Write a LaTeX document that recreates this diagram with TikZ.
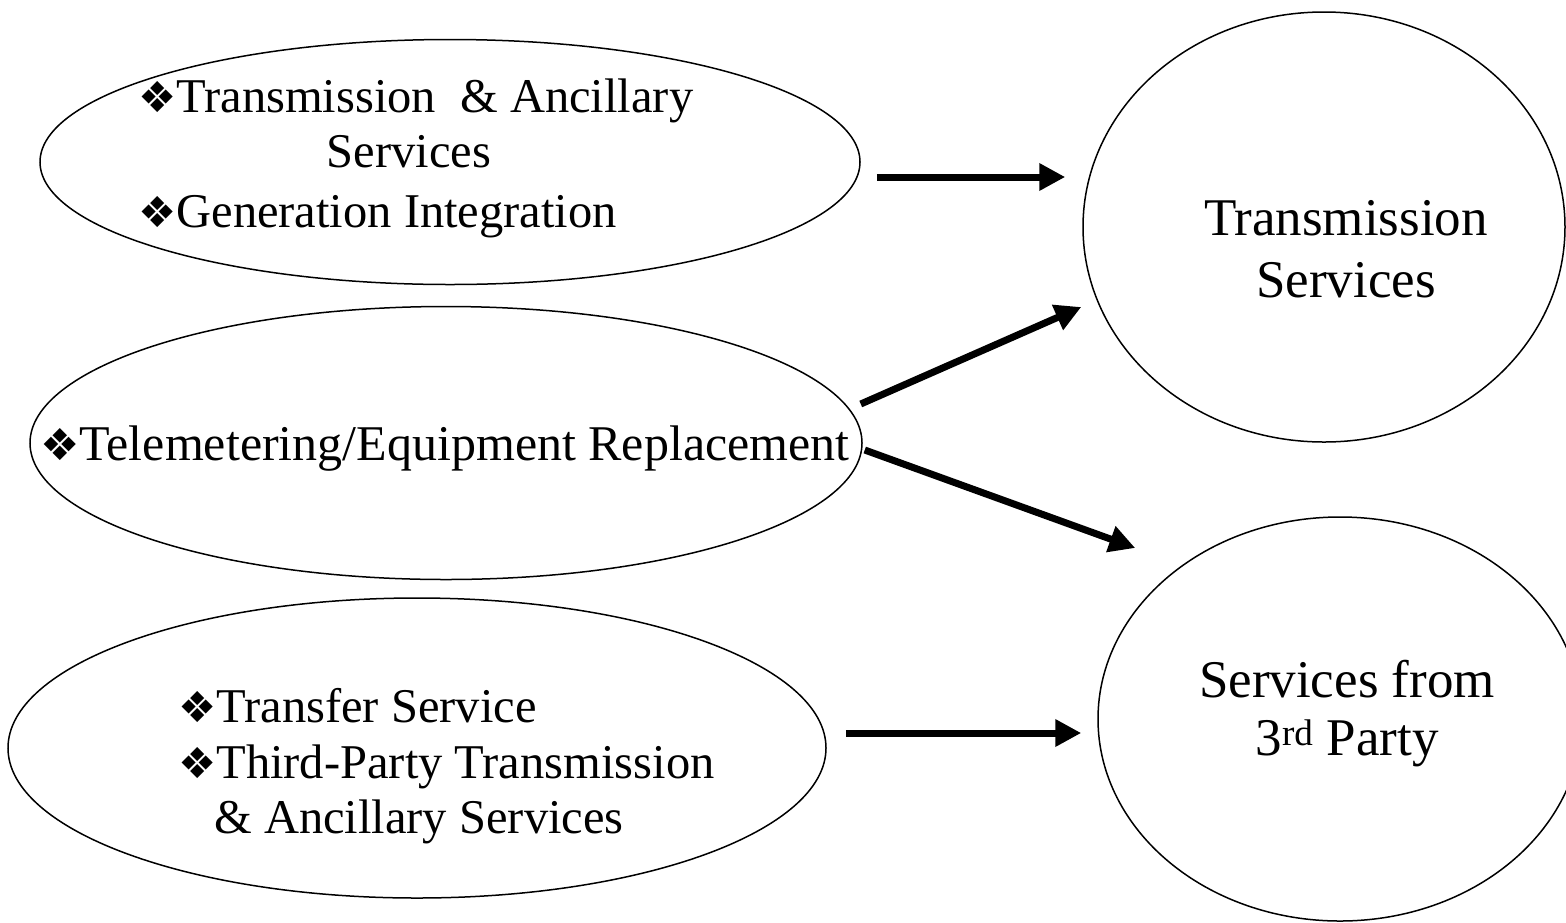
\documentclass[tikz,border=0pt]{standalone}
\usepackage{fontspec}
\usepackage{graphicx}
\setmainfont{Liberation Serif}
\newfontfamily\dingfont{DejaVu Sans}
\newcommand\diabullet{{\dingfont\scalebox{0.88}{❖}}}
\usetikzlibrary{shapes.geometric,arrows.meta}
\begin{document}
\begin{tikzpicture}[x=1pt,y=-1pt,
  oval/.style={draw,ellipse,line width=1.5pt,inner sep=0pt},
  body/.style={inner sep=0pt,font=\fontsize{48.5}{58}\selectfont},
  wide/.style={inner sep=0pt,font=\fontsize{50}{60}\selectfont},
  big/.style={inner sep=0pt,font=\fontsize{53}{63}\selectfont},
  flow/.style={line width=7pt,-{Triangle[length=26pt,width=26pt]}}]
\useasboundingbox (0,0) rectangle (1566,922);
\clip (0,0) rectangle (1566,922);

% left-hand ovals
\node[oval,minimum width=820pt,minimum height=245pt] (e1) at (450,162) {};
\node[oval,minimum width=832pt,minimum height=273pt] (e2) at (446,443) {};
\node[oval,minimum width=818pt,minimum height=300pt] (e3) at (417,748) {};

% right-hand circles
\node[oval,minimum width=482pt,minimum height=430pt] (c1) at (1324,227) {};
\node[oval,minimum width=484pt,minimum height=404pt] (c2) at (1340,719) {};

% text of the ovals
\node[body,anchor=base west] (t1a) at (138,112) {\diabullet Transmission\ \ \& Ancillary};
\node[body,anchor=base] (t1b) at (409,167) {Services};
\node[body,anchor=base west] (t1c) at (138,227) {\diabullet Generation Integration};
\node[wide,anchor=base west] (t2) at (40,460) {\diabullet Telemetering/Equipment Replacement};
\node[body,anchor=base west] (t3a) at (178,722) {\diabullet Transfer Service};
\node[body,anchor=base west] (t3b) at (178,778) {\diabullet Third-Party Transmission};
\node[body,anchor=base west] (t3c) at (214,833) {\& Ancillary Services};

% text of the circles
\node[big,anchor=base] (u1a) at (1346,235) {Transmission};
\node[big,anchor=base] (u1b) at (1346,297) {Services};
\node[big,anchor=base] (u2a) at (1347,697) {Services from};
\node[big,anchor=base] (u2b) at (1347,755) {3\textsuperscript{rd} Party};

% arrow end points, kept clear of the outlines
\coordinate (a1s) at ([shift={(16,15)}]e1.east);
\coordinate (a1e) at ([shift={(-17,-50)}]c1.west);
\coordinate (a2s) at ([shift={(-2,-39)}]e2.east);
\coordinate (a2e) at ([shift={(-1,80)}]c1.west);
\coordinate (a3s) at ([shift={(2,7)}]e2.east);
\coordinate (a3e) at ([shift={(38,-171)}]c2.west);
\coordinate (a4s) at ([shift={(19,-15)}]e3.east);
\coordinate (a4e) at ([shift={(-16,14)}]c2.west);

\draw[flow] (a1s) -- (a1e);
\draw[flow] (a2s) -- (a2e);
\draw[flow] (a3s) -- (a3e);
\draw[flow] (a4s) -- (a4e);
\end{tikzpicture}
\end{document}
